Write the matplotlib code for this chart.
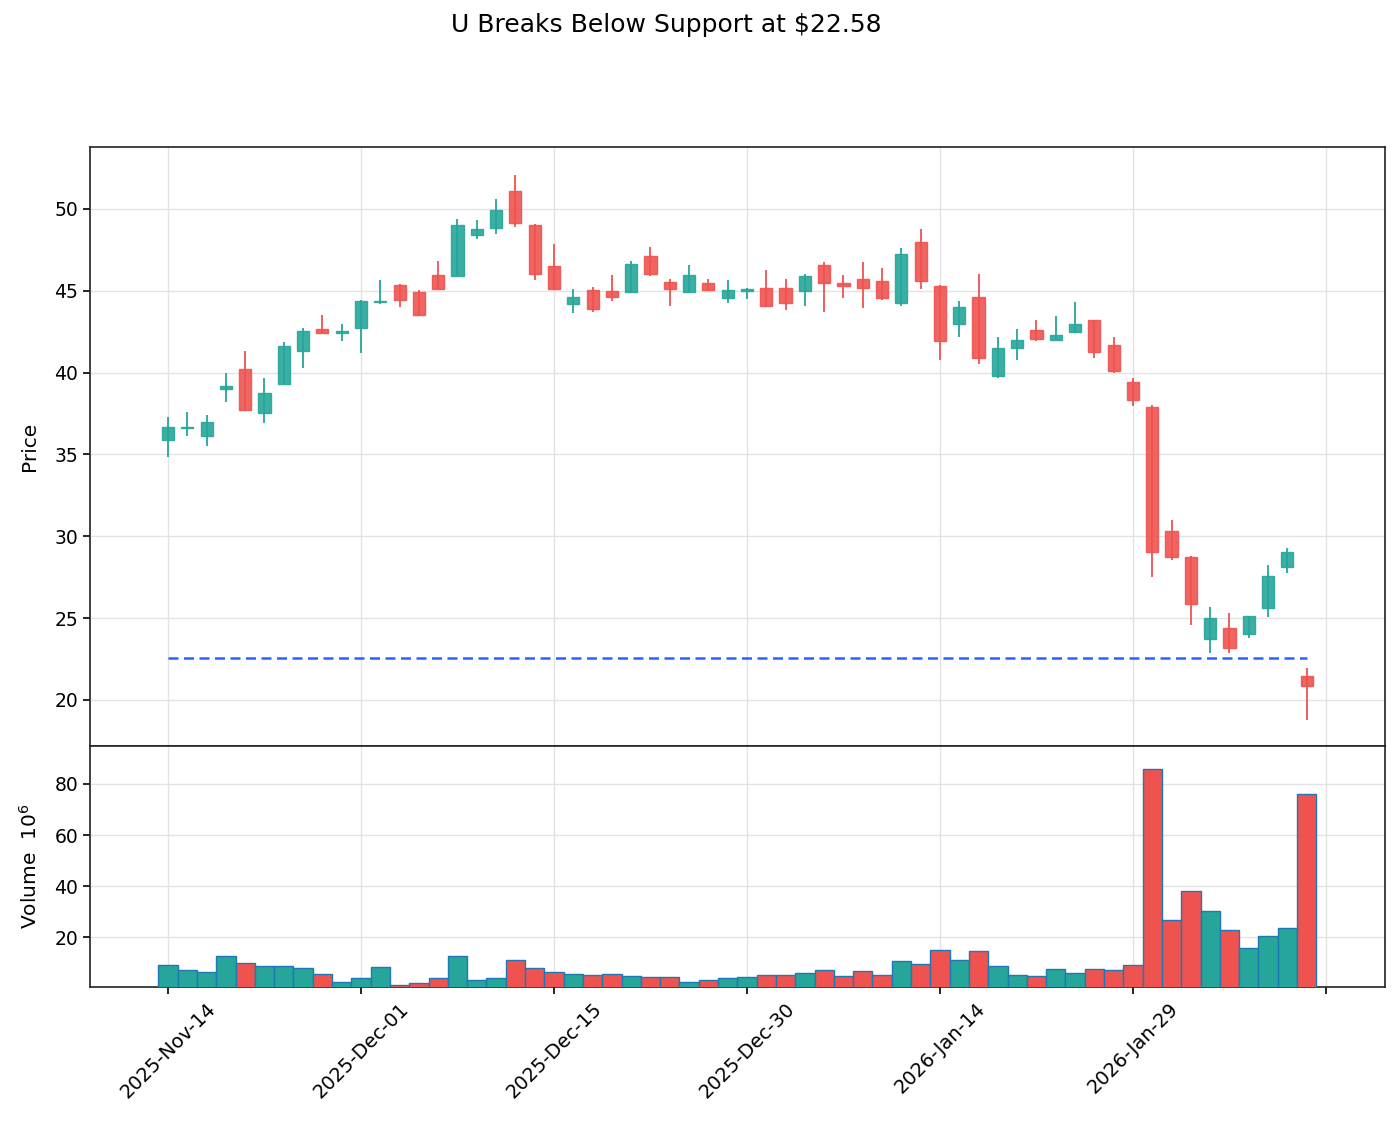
import matplotlib
matplotlib.use("Agg")
import matplotlib.pyplot as plt
from matplotlib.patches import Rectangle
import numpy as np
import pandas as pd

# ---------------- data ----------------
holidays = ["2025-11-27", "2025-12-25", "2026-01-01", "2026-01-19"]
dates = pd.bdate_range("2025-11-14", "2026-02-11", freq="C", holidays=holidays)

opens = [35.9, 36.6, 36.1, 39.0, 40.2, 37.55, 39.3, 41.35, 42.65, 42.45,
         42.7, 44.3, 45.35, 44.9, 45.95, 45.9, 48.4, 48.85, 51.1, 49.05,
         46.5, 44.2, 45.05, 45.0, 44.95, 47.1, 45.55, 44.95, 45.45, 44.55,
         45.0, 45.2, 45.2, 45.0, 46.55, 45.45, 45.7, 45.6, 44.25, 48.0,
         45.3, 42.95, 44.6, 39.8, 41.5, 42.6, 42.0, 42.5, 43.2, 41.7,
         39.45, 37.9, 30.3, 28.75, 23.7, 24.4, 24.05, 25.6, 28.1, 21.45]
highs = [37.3, 37.6, 37.4, 40.0, 41.3, 39.65, 41.85, 42.75, 43.55, 43.0,
         44.45, 45.65, 45.4, 45.05, 46.85, 49.4, 49.35, 50.6, 52.1, 49.1,
         47.85, 45.1, 45.25, 45.95, 46.8, 47.7, 45.7, 46.55, 45.7, 45.65,
         45.2, 46.25, 45.7, 46.0, 46.75, 45.95, 46.75, 46.4, 47.6, 48.75,
         45.35, 44.4, 46.05, 42.15, 42.65, 43.2, 43.45, 44.3, 43.2, 42.15,
         39.7, 38.0, 31.0, 28.8, 25.7, 25.3, 25.15, 28.25, 29.3, 21.95]
lows = [34.85, 36.1, 35.5, 38.2, 37.7, 36.9, 39.3, 40.3, 42.45, 41.95,
        41.2, 44.2, 44.0, 43.55, 45.1, 45.9, 48.15, 48.45, 48.9, 45.65,
        45.1, 43.65, 43.7, 44.4, 44.95, 45.9, 44.05, 44.95, 45.05, 44.25,
        44.5, 44.0, 43.8, 44.1, 43.7, 44.55, 43.95, 44.45, 44.05, 45.1,
        40.75, 42.2, 40.5, 39.65, 40.8, 41.95, 42.0, 42.4, 40.9, 39.95,
        37.95, 27.5, 28.55, 24.6, 22.9, 22.85, 23.8, 25.1, 27.75, 18.8]
closes = [36.7, 36.7, 37.0, 39.2, 37.7, 38.75, 41.6, 42.55, 42.45, 42.55,
          44.4, 44.4, 44.45, 43.55, 45.1, 49.0, 48.8, 49.95, 49.15, 46.05,
          45.1, 44.6, 43.9, 44.6, 46.65, 46.05, 45.1, 45.95, 45.05, 45.05,
          45.1, 44.1, 44.25, 45.9, 45.5, 45.3, 45.2, 44.55, 47.25, 45.6,
          41.95, 44.0, 40.9, 41.5, 42.0, 42.05, 42.3, 43.0, 41.25, 40.1,
          38.35, 29.05, 28.75, 25.85, 25.0, 23.15, 25.15, 27.55, 29.05, 20.85]
volumes = [8.9, 6.9, 6.2, 12.4, 9.7, 8.5, 8.5, 7.7, 5.4, 2.35,
           3.8, 8.1, 1.4, 1.8, 3.8, 12.4, 3.0, 3.8, 10.9, 7.7,
           6.2, 5.4, 5.0, 5.4, 4.6, 4.2, 4.2, 2.35, 3.0, 3.8,
           4.2, 5.0, 5.0, 5.75, 6.9, 4.6, 6.5, 5.0, 10.45, 9.3,
           14.8, 11.0, 14.4, 8.5, 5.0, 4.6, 7.3, 5.75, 7.3, 6.9,
           8.9, 85.8, 26.5, 37.9, 30.2, 22.6, 15.6, 20.4, 23.4, 76.1]
support_level = 22.58
title = "U Breaks Below Support at $22.58"

# ---------------- style ----------------
UP = "#26a69a"
DOWN = "#ef5350"
GRID = "#e3e3e3"

plt.rcParams["font.family"] = ["DejaVu Sans"]
plt.rcParams["font.size"] = 13.5

fig = plt.figure(figsize=(14, 11.26), dpi=100)
ax = fig.add_axes([0.0643, 0.3375, 0.925, 0.532])
axv = fig.add_axes([0.0643, 0.1234, 0.925, 0.2141], sharex=ax)

n = len(opens)
x = np.arange(n)
body_w = 0.63

for i in range(n):
    o, h, l, c = opens[i], highs[i], lows[i], closes[i]
    col = UP if c >= o else DOWN
    ax.vlines(x[i], l, h, color=col, linewidth=1.3, zorder=3)
    bot = min(o, c)
    ht = max(abs(c - o), 0.08)
    ax.add_patch(Rectangle((x[i] - body_w / 2, bot), body_w, ht,
                           facecolor=col, edgecolor=col, alpha=0.9,
                           linewidth=1.0, zorder=4))

ax.plot(x, [support_level] * n, linestyle="--", color="#2962ff",
        linewidth=1.8, dashes=(4, 2.2), zorder=5)

vcols = [UP if closes[i] >= opens[i] else DOWN for i in range(n)]
axv.bar(x, volumes, width=1.0, color=vcols, edgecolor="#1f77b4",
        linewidth=1.0, zorder=3)

# axes settings
ax.set_xlim(-4.04, 63.06)
ax.set_ylim(17.19, 53.79)
axv.set_ylim(0.4, 94.9)

ax.set_yticks([20, 25, 30, 35, 40, 45, 50])
axv.set_yticks([20, 40, 60, 80])

ticks = list(range(0, 61, 10))
labels = [dates[t].strftime("%Y-%b-%d") if t < n else "" for t in ticks]
axv.set_xticks(ticks)
axv.set_xticklabels(labels, rotation=45, ha="center")
ax.tick_params(axis="x", bottom=False, labelbottom=False)

for a in (ax, axv):
    a.grid(True, color=GRID, linewidth=1.0, zorder=0)
    a.set_axisbelow(True)
    a.tick_params(axis="both", labelsize=13.5, length=5, width=1.2)
    for s in a.spines.values():
        s.set_linewidth(1.2)
        s.set_color("#222222")
axv.tick_params(axis="x", labelsize=14)

ax.set_ylabel("Price", fontsize=14.5, labelpad=11)
axv.set_ylabel("Volume  $10^{6}$", fontsize=14.5, labelpad=10)

fig.text(0.476, 0.978, title, ha="center", va="center", fontsize=18)

fig.savefig("out.png", dpi=100)
